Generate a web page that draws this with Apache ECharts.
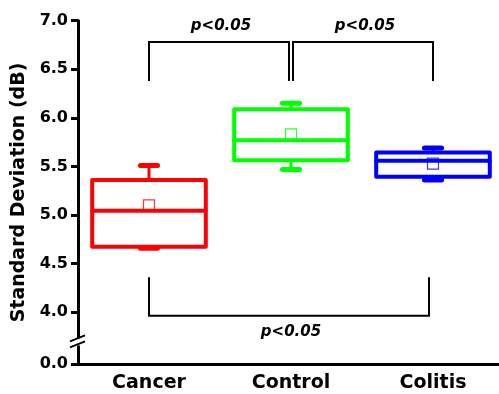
<!DOCTYPE html>
<html>
<head>
<meta charset="utf-8">
<script src="https://cdn.jsdelivr.net/npm/echarts@6/dist/echarts.min.js"></script>
<style>
  html, body { margin: 0; padding: 0; background: #fff; overflow: hidden; }
  #chart { width: 510px; height: 394px; }
</style>
</head>
<body>
<div id="chart"></div>
<script>
// categories and box statistics (dB)
const categories = ['Cancer', 'Control', 'Colitis'];
const boxMin = [4.66, 5.47, 5.36];
const boxQ1 = [4.675, 5.565, 5.395];
const boxMedian = [5.045, 5.77, 5.56];
const boxQ3 = [5.36, 6.09, 5.645];
const boxMax = [5.51, 6.15, 5.69];
const boxMean = [5.10, 5.83, 5.53];

// y axis ticks (the axis is broken between 0.0 and 4.0)
const yTickValues = [0, 4.0, 4.5, 5.0, 5.5, 6.0, 6.5, 7.0];
const yTickLabels = ['0.0', '4.0', '4.5', '5.0', '5.5', '6.0', '6.5', '7.0'];

// significance brackets
const sigFrom = [0, 1, 0];
const sigTo = [1, 2, 2];
const sigBar = [6.78, 6.78, 3.965];
const sigEnd = [6.38, 6.38, 4.36];
const sigText = ['p<0.05', 'p<0.05', 'p<0.05'];

// styles
const boxColors = ['#ff0000', '#00ff00', '#0000ff'];
const sigNudge = [[0, -2], [2, 0], [0, -4]]; // px nudge of bracket ends
const FONT = 'DejaVu Sans';

// axis break: 0.0 is drawn just below 4.0
const BREAK_ZERO = 3.465;
function toAxis(v) { return v < 1 ? BREAK_ZERO + v : v; }

const chartDom = document.getElementById('chart');
const myChart = echarts.init(chartDom);

const boxData = categories.map(function (c, i) {
    return [i, boxMin[i], boxQ1[i], boxMedian[i], boxQ3[i], boxMax[i], boxMean[i]];
});
const sigData = sigFrom.map(function (f, i) {
    return [f, sigTo[i], sigBar[i], sigEnd[i], i];
});

function renderBox(params, api) {
    const i = api.value(0);
    const band = api.size([1, 0])[0];
    const bw = band * 0.8;
    const capW = band * 0.12;
    const pMin = api.coord([i, api.value(1)]);
    const pQ1 = api.coord([i, api.value(2)]);
    const pMed = api.coord([i, api.value(3)]);
    const pQ3 = api.coord([i, api.value(4)]);
    const pMax = api.coord([i, api.value(5)]);
    const pMean = api.coord([i, api.value(6)]);
    const xc = pMed[0];
    const color = boxColors[i];
    const line = function (x1, y1, x2, y2, w) {
        return {
            type: 'line',
            shape: { x1: x1, y1: y1, x2: x2, y2: y2 },
            style: { stroke: color, lineWidth: w, lineCap: 'round' }
        };
    };
    return {
        type: 'group',
        children: [
            line(xc, pQ3[1], xc, pMax[1], 3),
            line(xc, pQ1[1], xc, pMin[1], 3),
            line(xc - capW / 2, pMax[1], xc + capW / 2, pMax[1], 5),
            line(xc - capW / 2, pMin[1], xc + capW / 2, pMin[1], 5),
            {
                type: 'rect',
                shape: { x: xc - bw / 2, y: pQ3[1], width: bw, height: pQ1[1] - pQ3[1] },
                style: { fill: null, stroke: color, lineWidth: 4, lineJoin: 'round' }
            },
            line(xc - bw / 2, pMed[1], xc + bw / 2, pMed[1], 4),
            {
                type: 'rect',
                shape: { x: xc - 5.5, y: pMean[1] - 5.5, width: 11, height: 11 },
                style: { fill: null, stroke: color, lineWidth: 1.2, opacity: 0.8 }
            }
        ]
    };
}

function renderSig(params, api) {
    const k = api.value(4);
    const a = api.coord([api.value(0), api.value(2)]);
    const b = api.coord([api.value(1), api.value(2)]);
    const yEnd = api.coord([api.value(0), api.value(3)])[1];
    const x1 = a[0] + sigNudge[k][0];
    const x2 = b[0] + sigNudge[k][1];
    const y = a[1];
    const above = yEnd > y;
    return {
        type: 'group',
        children: [
            {
                type: 'polyline',
                shape: { points: [[x1, yEnd], [x1, y], [x2, y], [x2, yEnd]] },
                style: { stroke: '#000', lineWidth: 2, fill: null }
            },
            {
                type: 'text',
                x: (x1 + x2) / 2 + 2,
                y: above ? y - 16 : y + 16,
                style: {
                    text: sigText[k],
                    fontFamily: FONT,
                    fontSize: 15,
                    fontWeight: 'bold',
                    fontStyle: 'italic',
                    fill: '#000',
                    align: 'center',
                    verticalAlign: 'middle'
                }
            }
        ]
    };
}

const axisFont = { fontFamily: FONT, fontWeight: 'bold', color: '#000' };

const option = {
    animation: false,
    grid: { left: 78, right: 6, top: 20.7, bottom: 29.7, containLabel: false },
    xAxis: {
        type: 'category',
        data: categories,
        axisLine: { lineStyle: { color: '#000', width: 3 } },
        axisTick: { alignWithLabel: true, length: 7, lineStyle: { width: 3, color: '#000' } },
        axisLabel: Object.assign({ fontSize: 19, margin: 9 }, axisFont),
        splitLine: { show: false }
    },
    yAxis: {
        type: 'value',
        min: BREAK_ZERO,
        max: 7,
        name: 'Standard Deviation (dB)',
        nameLocation: 'middle',
        nameGap: 42,
        nameTextStyle: Object.assign({ fontSize: 19 }, axisFont),
        axisLine: { show: true, lineStyle: { color: '#000', width: 3 } },
        axisTick: {
            show: true,
            length: 7,
            customValues: yTickValues.map(toAxis),
            lineStyle: { width: 3, color: '#000' }
        },
        axisLabel: Object.assign({
            fontSize: 16,
            margin: 10,
            customValues: yTickValues.map(toAxis),
            formatter: function (v) {
                let best = 0;
                yTickValues.forEach(function (t, i) {
                    if (Math.abs(toAxis(t) - v) < Math.abs(toAxis(yTickValues[best]) - v)) best = i;
                });
                return yTickLabels[best];
            }
        }, axisFont),
        splitLine: { show: false }
    },
    series: [
        {
            type: 'custom',
            name: 'box',
            renderItem: renderBox,
            data: boxData,
            encode: { x: 0, y: [1, 2, 3, 4, 5, 6] },
            z: 3
        },
        {
            type: 'custom',
            name: 'sig',
            renderItem: renderSig,
            data: sigData,
            encode: { x: [0, 1], y: [2, 3] },
            clip: false,
            z: 2
        }
    ]
};

myChart.setOption(option);

// break marks on the y axis
const axisX = 78;
const yLow = myChart.convertToPixel({ yAxisIndex: 0 }, BREAK_ZERO);
const yHigh = myChart.convertToPixel({ yAxisIndex: 0 }, 4);
const yMid = yLow - (yLow - yHigh) * 0.43;
myChart.setOption({
    graphic: [
        {
            type: 'rect',
            shape: { x: axisX - 4, y: yMid - 3.5, width: 8, height: 7 },
            style: { fill: '#fff' },
            z: 100
        },
        {
            type: 'line',
            shape: { x1: axisX - 8, y1: yMid - 0.5, x2: axisX + 7, y2: yMid - 6.5 },
            style: { stroke: '#000', lineWidth: 2 },
            z: 101
        },
        {
            type: 'line',
            shape: { x1: axisX - 8, y1: yMid + 5.5, x2: axisX + 7, y2: yMid - 0.5 },
            style: { stroke: '#000', lineWidth: 2 },
            z: 101
        }
    ]
});

window.addEventListener('resize', function () {
    myChart.resize();
});
</script>
</body>
</html>
